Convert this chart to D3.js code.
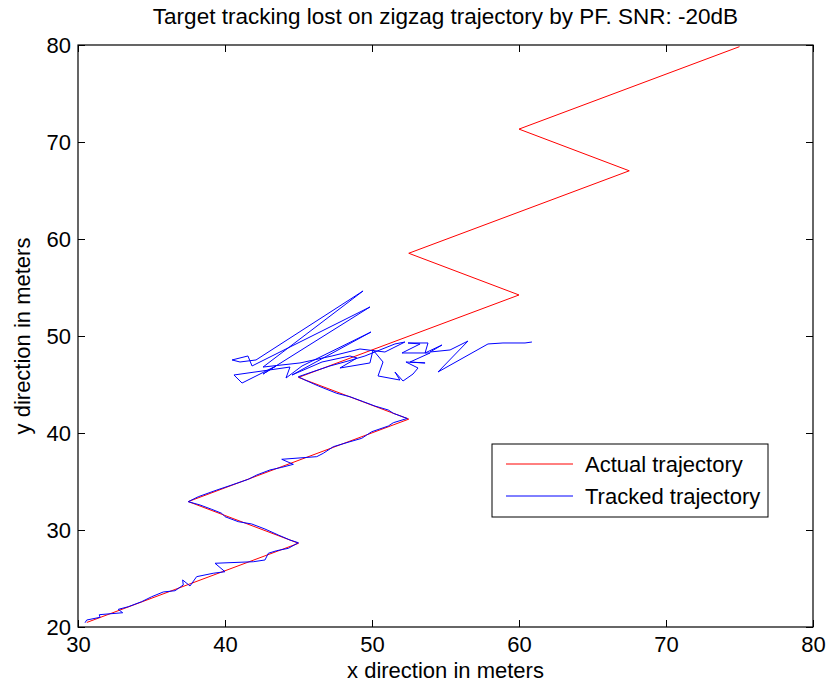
<!DOCTYPE html>
<html>
<head>
<meta charset="utf-8">
<script src="https://cdn.jsdelivr.net/npm/d3@7"></script>
<style>
  html, body { margin: 0; padding: 0; background: #fff; }
  svg { display: block; font-family: "Liberation Sans", Arial, Helvetica, sans-serif; }
</style>
</head>
<body>
<svg id="chart" width="831" height="688"></svg>
<script>
// Zigzag target path (x, y in meters)
const actualX = [30.6, 45.0, 37.5, 52.5, 45.0, 60.0, 52.5, 67.5, 60.0, 75.0];
const actualY = [20.47, 28.63, 32.93, 41.43, 45.73, 54.23, 58.53, 67.03, 71.33, 79.83];

// Particle-filter estimate of the target position
const trackedX = [
  30.48, 30.59, 31.50, 31.45, 33.04, 32.74, 33.42, 34.33, 35.01, 35.80,
  36.60, 37.16, 37.12, 37.62, 38.07, 39.20, 40.00, 39.32, 41.93, 42.72,
  42.95, 43.52, 44.31, 44.99, 44.42, 43.63, 42.72, 41.82, 40.90, 40.00,
  39.78, 39.10, 38.30, 37.50, 38.18, 39.44, 40.46, 41.59, 42.16, 43.06,
  43.86, 44.65, 43.86, 46.24, 46.69, 47.37, 48.50, 49.30, 49.64, 49.98,
  51.11, 51.45, 52.40, 51.45, 51.11, 50.20, 49.41, 48.50, 47.60, 46.35,
  45.44, 44.99,
  45.92, 47.14, 48.37, 49.52, 50.54, 51.56, 52.24, 50.88, 49.18, 47.28,
  45.10, 42.59, 49.39, 42.11, 41.02, 40.48, 41.56, 41.84, 49.86, 42.59,
  43.47, 41.16, 40.61, 42.52, 44.42, 44.15, 45.24, 49.93, 44.56, 46.60,
  48.50, 48.98, 47.82, 49.86, 50.07, 50.75, 50.41, 51.90, 51.56, 52.11,
  52.79, 53.13, 52.31, 53.61, 52.59, 53.95, 52.04, 53.27, 52.45, 53.81,
  53.61, 54.76, 53.95, 55.31, 56.53, 54.49, 57.89, 58.91, 60.41, 60.88
];
const trackedY = [
  20.44, 20.72, 21.00, 21.27, 21.47, 21.82, 22.09, 22.61, 23.12, 23.61,
  23.74, 24.33, 24.85, 24.23, 25.19, 25.54, 25.70, 26.57, 26.73, 26.91,
  27.60, 27.87, 28.11, 28.69, 28.97, 29.48, 30.10, 30.62, 30.86, 31.37,
  31.72, 32.13, 32.58, 32.92, 33.43, 34.12, 34.64, 35.23, 35.67, 36.19,
  36.46, 36.77, 37.29, 37.56, 37.91, 38.59, 39.10, 39.45, 39.79, 40.13,
  40.72, 41.06, 41.50, 42.03, 42.37, 42.78, 43.23, 43.74, 44.09, 44.85,
  45.46, 45.80,
  46.29, 46.91, 47.42, 47.94, 48.56, 49.18, 49.38, 48.35, 48.66, 47.94,
  47.22, 46.80, 54.64, 47.53, 47.32, 47.53, 47.94, 46.91, 52.99, 46.08,
  46.91, 45.15, 45.98, 46.39, 46.80, 45.67, 46.91, 50.41, 45.98, 47.32,
  47.94, 47.73, 46.70, 47.22, 48.56, 47.32, 45.88, 45.46, 46.29, 45.36,
  46.08, 46.70, 47.32, 47.22, 47.32, 48.25, 48.25, 49.18, 49.28, 49.28,
  48.25, 49.07, 48.35, 48.56, 49.48, 46.29, 49.18, 49.28, 49.28, 49.38
];

const xTicks = [30, 40, 50, 60, 70, 80];
const yTicks = [20, 30, 40, 50, 60, 70, 80];

const titleText = "Target tracking lost on zigzag trajectory by PF. SNR: -20dB";
const xLabelText = "x direction in meters";
const yLabelText = "y direction in meters";
const seriesNames = ["Actual trajectory", "Tracked trajectory"];
const seriesColors = ["#ff0000", "#0000ff"];

const svg = d3.select("#chart");
const boxL = 78, boxR = 813, boxT = 45, boxB = 627;

const x = d3.scaleLinear().domain([30, 80]).range([boxL, boxR]);
const y = d3.scaleLinear().domain([20, 80]).range([boxB, boxT]);

const tickLen = 7;
const tickFont = 22;
const labelFont = 22;
const titleFont = 22.5;
const legendFont = 22;

// Traces, clipped to the axes box
svg.append("clipPath").attr("id", "plotClip")
  .append("rect").attr("x", boxL).attr("y", boxT)
  .attr("width", boxR - boxL).attr("height", boxB - boxT);

const line = d3.line().x(d => x(d[0])).y(d => y(d[1]));
const actual = actualX.map((v, i) => [v, actualY[i]]);
const tracked = trackedX.map((v, i) => [v, trackedY[i]]);

const traces = svg.append("g").attr("clip-path", "url(#plotClip)");
traces.append("path").datum(actual)
  .attr("d", line).attr("fill", "none")
  .attr("stroke", seriesColors[0]).attr("stroke-width", 1);
traces.append("path").datum(tracked)
  .attr("d", line).attr("fill", "none")
  .attr("stroke", seriesColors[1]).attr("stroke-width", 1);

// Axes with inward ticks on all four sides
function styleAxis(g) {
  g.selectAll(".domain").remove();
  g.selectAll(".tick line").attr("stroke", "#000").attr("stroke-width", 1);
  g.selectAll(".tick text").attr("fill", "#000")
    .style("font-size", tickFont + "px")
    .style("font-family", "\"Liberation Sans\", Arial, sans-serif");
}

const gx = svg.append("g").attr("transform", `translate(0,${boxB})`)
  .call(d3.axisBottom(x).tickValues(xTicks).tickFormat(d3.format("d"))
    .tickSizeInner(-tickLen).tickSizeOuter(0));
styleAxis(gx);
gx.selectAll(".tick text").attr("dy", null).attr("y", 25);

const gxTop = svg.append("g").attr("transform", `translate(0,${boxT})`)
  .call(d3.axisTop(x).tickValues(xTicks).tickFormat("")
    .tickSizeInner(-tickLen).tickSizeOuter(0));
styleAxis(gxTop);

const gy = svg.append("g").attr("transform", `translate(${boxL},0)`)
  .call(d3.axisLeft(y).tickValues(yTicks).tickFormat(d3.format("d"))
    .tickSizeInner(-tickLen).tickSizeOuter(0));
styleAxis(gy);
gy.selectAll(".tick text").attr("x", -7).attr("dy", "0.36em");

const gyRight = svg.append("g").attr("transform", `translate(${boxR},0)`)
  .call(d3.axisRight(y).tickValues(yTicks).tickFormat("")
    .tickSizeInner(-tickLen).tickSizeOuter(0));
styleAxis(gyRight);

// Box
svg.append("rect")
  .attr("x", boxL).attr("y", boxT)
  .attr("width", boxR - boxL).attr("height", boxB - boxT)
  .attr("fill", "none").attr("stroke", "#000").attr("stroke-width", 1.2);

// Title and axis labels
svg.append("text")
  .attr("x", (boxL + boxR) / 2).attr("y", 24)
  .attr("text-anchor", "middle")
  .style("font-size", titleFont + "px")
  .text(titleText);

svg.append("text")
  .attr("x", (boxL + boxR) / 2).attr("y", 678)
  .attr("text-anchor", "middle")
  .style("font-size", labelFont + "px")
  .text(xLabelText);

svg.append("text")
  .attr("transform", `translate(30,${(boxT + boxB) / 2}) rotate(-90)`)
  .attr("text-anchor", "middle")
  .style("font-size", labelFont + "px")
  .text(yLabelText);

// Legend
const legend = svg.append("g");
legend.append("rect")
  .attr("x", 492).attr("y", 444).attr("width", 276).attr("height", 73)
  .attr("fill", "#fff").attr("stroke", "#000").attr("stroke-width", 1);
seriesNames.forEach((name, i) => {
  const ly = 464 + i * 32;
  legend.append("line")
    .attr("x1", 506).attr("x2", 573).attr("y1", ly).attr("y2", ly)
    .attr("stroke", seriesColors[i]).attr("stroke-width", 1);
  legend.append("text")
    .attr("x", 585).attr("y", ly + 8)
    .style("font-size", legendFont + "px")
    .text(name);
});
</script>
</body>
</html>
